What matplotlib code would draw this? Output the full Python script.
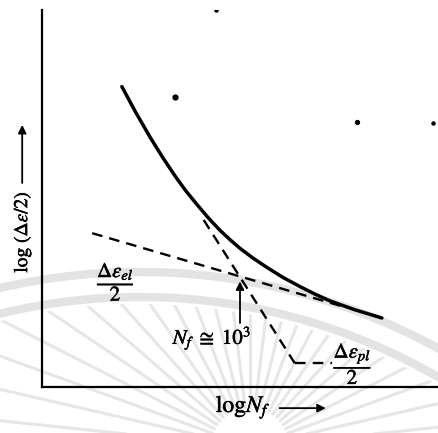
import numpy as np
import matplotlib.pyplot as plt
import matplotlib.patheffects as pe
from matplotlib.patches import Arc, Circle

plt.rcParams['mathtext.fontset'] = 'stix'
plt.rcParams['font.family'] = ['STIXGeneral', 'DejaVu Serif']

# total strain amplitude vs life, read in (log Nf, log strain) units
total_x = [1.21, 1.42, 1.64, 1.82, 2.02, 2.18, 2.36, 2.53, 2.70, 2.85,
           3.00, 3.20, 3.41, 3.65, 3.91, 4.14, 4.36, 4.74, 5.15]
total_y = [4.55, 4.16, 3.78, 3.49, 3.19, 2.97, 2.75, 2.55, 2.37, 2.23,
           2.10, 1.95, 1.81, 1.66, 1.52, 1.405, 1.305, 1.17, 1.045]

# elastic (Basquin) and plastic (Coffin-Manson) asymptotes
elastic_x = [0.76, 4.52]
elastic_y = [2.33, 1.23]
plastic_x = [2.45, 3.83]
plastic_y = [2.53, 0.36]
plastic_lead_x = [3.83, 4.39]
plastic_lead_y = [0.36, 0.36]

transition_x = 3.0   # log Nf where the two lines cross (Nf ~ 10^3)
transition_y = 1.67

# specks on the printed page
speck_x = [2.02, 2.64, 4.77, 5.92]
speck_y = [4.39, 5.71, 4.02, 4.00]
speck_size = [3.5, 2.2, 2.8, 2.2]

fig = plt.figure(figsize=(4.38, 4.33), dpi=100)

# faint seal printed behind the figure
bg = fig.add_axes([0, 0, 1, 1], zorder=-1)
bg.set_xlim(0, 438)
bg.set_ylim(433, 0)
bg.axis('off')
for r in (620, 595):
    bg.add_patch(Arc((140, 892), 2 * r, 2 * r, theta1=240, theta2=305,
                     color='#e3e3e3', lw=6))
rim = Circle((140, 892), 588, transform=bg.transData, visible=False)
bg.add_patch(rim)
for ang in np.arange(186, 355, 7):
    a = np.radians(ang)
    ray, = bg.plot([250 + 40 * np.cos(a), 250 + 400 * np.cos(a)],
                   [447 + 40 * np.sin(a), 447 + 400 * np.sin(a)],
                   color='#e6e6e6', lw=2.2, solid_capstyle='round')
    ray.set_clip_path(rim)

ax = fig.add_axes([42 / 438, 46 / 433, 396 / 438, 377 / 433])
ax.set_xlim(0, 6)
ax.set_ylim(0, 5.71)
ax.patch.set_alpha(0)
for s in ('top', 'right'):
    ax.spines[s].set_visible(False)
for s in ('left', 'bottom'):
    ax.spines[s].set_linewidth(1.6)
ax.set_xticks([])
ax.set_yticks([])

ink = [pe.withStroke(linewidth=0.35, foreground='black')]
arrow = dict(arrowstyle='-|>', color='black', lw=1.3,
             mutation_scale=12, shrinkA=0, shrinkB=0)

dash = dict(color='black', lw=1.7, linestyle=(0, (4.5, 3)))
ax.plot(total_x, total_y, color='black', lw=2.5, solid_capstyle='round',
        solid_joinstyle='round')
ax.plot(elastic_x, elastic_y, **dash)
ax.plot(plastic_x, plastic_y, **dash)
ax.plot(plastic_lead_x, plastic_lead_y, **dash)
for sx, sy, sz in zip(speck_x, speck_y, speck_size):
    ax.plot(sx, sy, 'o', color='black', ms=sz)

ax.annotate('', xy=(transition_x, transition_y - 0.07),
            xytext=(transition_x, transition_y - 0.7), arrowprops=arrow)
ax.text(transition_x - 0.42, 0.74, r'$N_f\ \cong\ 10^3$', fontsize=15,
        ha='center', va='center', path_effects=ink)

ax.text(1.12, 1.60, r'$\dfrac{\Delta\varepsilon_{el}}{2}$', fontsize=15,
        ha='center', va='center', path_effects=ink)
ax.text(4.71, 0.36, r'$\dfrac{\Delta\varepsilon_{pl}}{2}$', fontsize=15,
        ha='center', va='center', path_effects=ink)

# axis captions with arrows
ax.text(3.05, -0.38, r'log$N_f$', fontsize=17, ha='center', va='baseline',
        clip_on=False, path_effects=ink)
ax.annotate('', xy=(4.30, -0.32), xytext=(3.60, -0.32),
            annotation_clip=False, arrowprops=arrow)
ax.text(-0.30, 2.35, r'log $(\Delta\varepsilon/2)$', fontsize=14,
        rotation=90, ha='center', va='center', clip_on=False,
        path_effects=ink)
ax.annotate('', xy=(-0.30, 3.97), xytext=(-0.30, 3.09),
            annotation_clip=False, arrowprops=arrow)

fig.savefig('out.png', dpi=100)
